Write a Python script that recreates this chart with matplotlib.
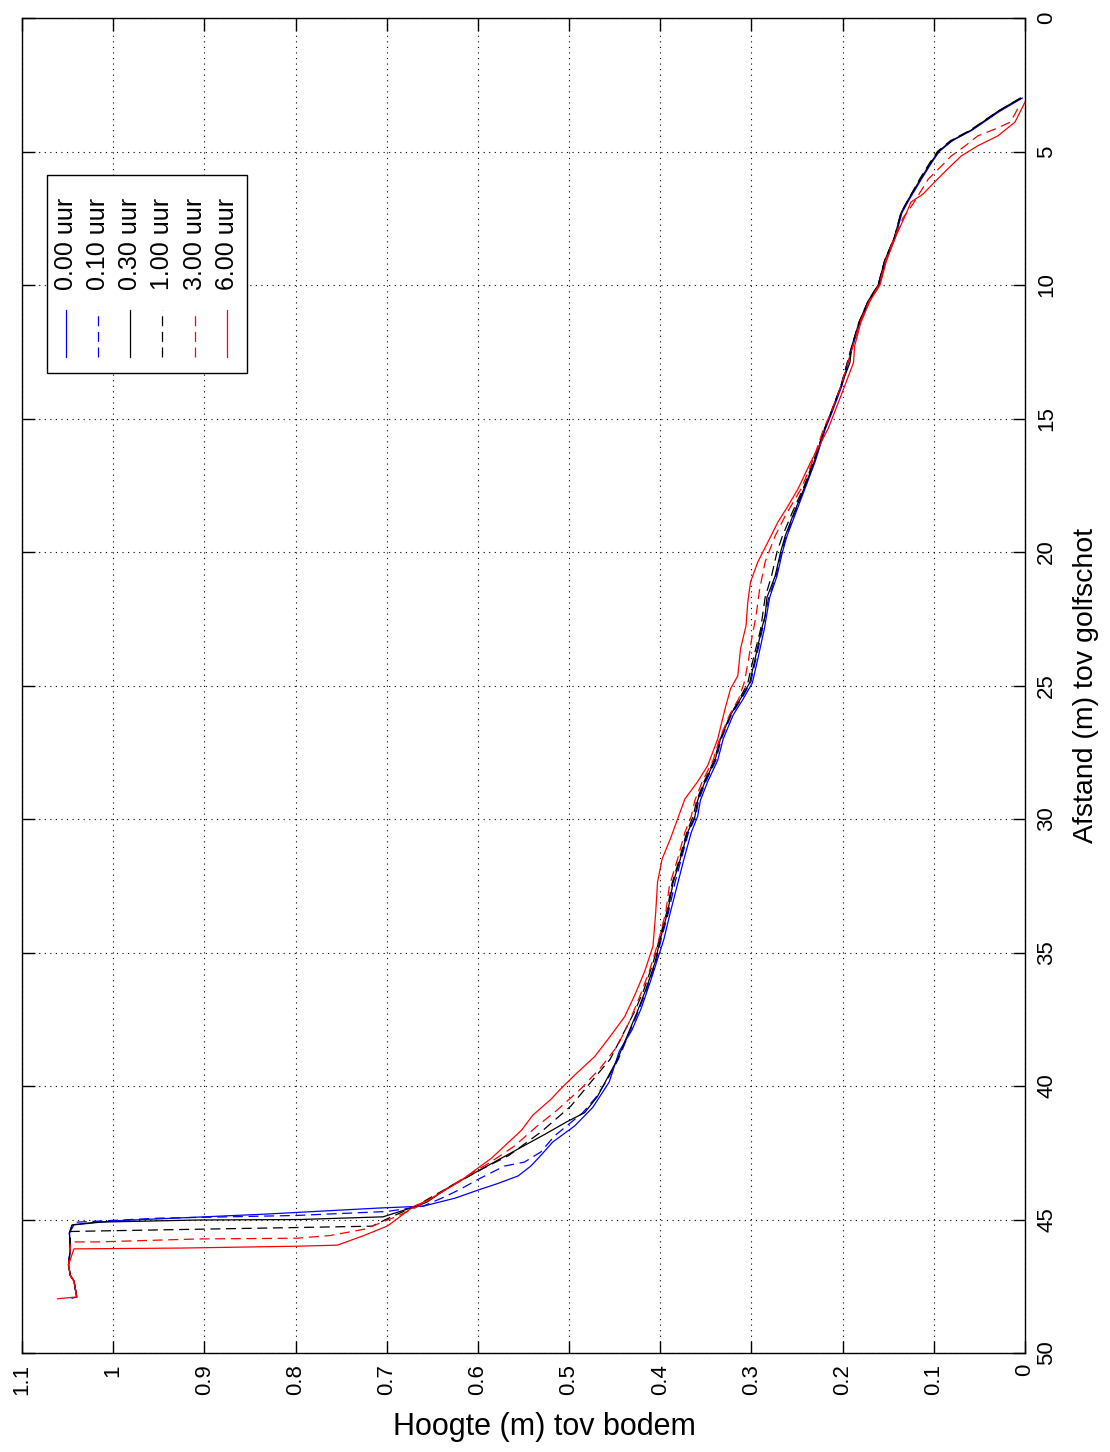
import matplotlib
matplotlib.use('Agg')
import matplotlib.pyplot as plt
from matplotlib.lines import Line2D
from matplotlib.patches import Rectangle

plt.rcParams['font.family'] = ['Liberation Sans', 'DejaVu Sans']

# meetmomenten en hun stijl
tijden = ['0.00 uur', '0.10 uur', '0.30 uur', '1.00 uur', '3.00 uur', '6.00 uur']
kleuren = ['#0000ff', '#0000ff', 'black', 'black', '#ff0000', '#ff0000']
stijlen = ['-', '--', '-', '--', '--', '-']

# profielen: (afstand tov golfschot [m], hoogte tov bodem [m])
profiel_000 = [(3.0, 0.003), (3.5, 0.028), (4.2, 0.058), (4.6, 0.080), (5.0, 0.094),
               (5.4, 0.102), (6.0, 0.113), (6.8, 0.127), (7.3, 0.135), (8.2, 0.142),
               (9.1, 0.153), (10.0, 0.160), (10.6, 0.171), (11.4, 0.181), (12.3, 0.189),
               (13.8, 0.201), (14.8, 0.212), (15.4, 0.219), (16.6, 0.230), (17.6, 0.241),
               (18.5, 0.251), (19.4, 0.261), (20.0, 0.266), (20.9, 0.272), (21.7, 0.280),
               (22.9, 0.286), (24.0, 0.293), (24.9, 0.299), (25.5, 0.309), (26.1, 0.320),
               (27.0, 0.331), (27.8, 0.337), (28.6, 0.348), (29.3, 0.356), (29.9, 0.359),
               (30.5, 0.366), (31.5, 0.374), (32.3, 0.380), (33.5, 0.389), (34.5, 0.396),
               (36.0, 0.410), (37.1, 0.421), (37.9, 0.431), (38.7, 0.445), (39.85, 0.456),
               (40.8, 0.474), (41.5, 0.494), (42.1, 0.518), (42.6, 0.531), (43.0, 0.542),
               (43.37, 0.556), (43.65, 0.578), (43.9, 0.600), (44.2, 0.625), (44.5, 0.660),
               (44.57, 0.708), (44.8, 0.834), (45.05, 0.999), (45.2, 1.043), (45.5, 1.048),
               (46.1, 1.047), (46.7, 1.049), (47.1, 1.047), (47.3, 1.043), (47.9, 1.040),
               (47.95, 1.045)]

profiel_010 = [(3.0, 0.004), (3.5, 0.029), (4.2, 0.059), (4.6, 0.080), (5.0, 0.095),
               (5.4, 0.103), (6.0, 0.114), (6.8, 0.128), (7.3, 0.136), (8.2, 0.143),
               (9.1, 0.154), (10.0, 0.161), (10.6, 0.172), (11.4, 0.182), (12.3, 0.190),
               (13.8, 0.202), (14.8, 0.213), (15.4, 0.220), (16.6, 0.231), (17.6, 0.242),
               (18.5, 0.252), (19.4, 0.262), (20.0, 0.267), (20.9, 0.273), (21.7, 0.281),
               (22.9, 0.288), (24.0, 0.295), (24.9, 0.301), (25.5, 0.311), (26.1, 0.322),
               (27.0, 0.333), (27.8, 0.339), (28.6, 0.350), (29.3, 0.358), (29.9, 0.361),
               (30.5, 0.369), (31.5, 0.377), (32.4, 0.384), (33.5, 0.391), (34.5, 0.399),
               (35.4, 0.405), (36.4, 0.415), (37.2, 0.424), (38.1, 0.435), (39.0, 0.446),
               (39.7, 0.457), (40.4, 0.470), (41.0, 0.485), (41.87, 0.516), (42.47, 0.531),
               (42.85, 0.549), (43.0, 0.571), (43.5, 0.600), (43.86, 0.619), (44.16, 0.637),
               (44.5, 0.660), (44.7, 0.700), (44.85, 0.800), (44.95, 0.950), (45.1, 1.040),
               (45.2, 1.045), (45.5, 1.048), (46.1, 1.047), (46.7, 1.049), (47.1, 1.047),
               (47.3, 1.043), (47.9, 1.040)]

profiel_030 = [(3.0, 0.005), (3.5, 0.030), (4.2, 0.059), (4.6, 0.081), (5.0, 0.095),
               (5.4, 0.103), (6.0, 0.114), (6.8, 0.128), (7.3, 0.136), (8.2, 0.143),
               (9.1, 0.154), (10.0, 0.161), (10.6, 0.172), (11.4, 0.182), (12.3, 0.190),
               (12.9, 0.192), (13.8, 0.202), (14.8, 0.213), (15.4, 0.220), (16.6, 0.231),
               (17.6, 0.242), (18.5, 0.253), (19.4, 0.263), (20.0, 0.268), (20.9, 0.274),
               (21.7, 0.283), (22.4, 0.285), (22.9, 0.289), (24.0, 0.296), (24.9, 0.302),
               (25.5, 0.312), (26.1, 0.323), (27.0, 0.334), (27.8, 0.340), (28.6, 0.351),
               (29.3, 0.359), (29.9, 0.362), (30.5, 0.370), (31.5, 0.378), (32.4, 0.386),
               (33.5, 0.392), (34.5, 0.400), (35.4, 0.406), (36.4, 0.416), (37.2, 0.425),
               (38.1, 0.436), (39.0, 0.447), (39.7, 0.458), (40.4, 0.469), (41.0, 0.483),
               (41.35, 0.503), (41.76, 0.524), (42.36, 0.556), (43.0, 0.590), (43.75, 0.630),
               (44.35, 0.656), (44.5, 0.667), (44.9, 0.704), (45.0, 0.795), (45.02, 0.908),
               (45.1, 1.018), (45.2, 1.045), (45.5, 1.048), (46.1, 1.047), (46.7, 1.049),
               (47.1, 1.047), (47.3, 1.043), (47.9, 1.040)]

profiel_100 = [(3.0, 0.005), (3.5, 0.030), (4.2, 0.060), (4.6, 0.082), (5.0, 0.096),
               (5.4, 0.104), (6.0, 0.115), (6.8, 0.128), (7.3, 0.136), (8.2, 0.143),
               (9.1, 0.154), (10.0, 0.161), (10.6, 0.172), (11.4, 0.182), (12.3, 0.190),
               (13.8, 0.202), (14.8, 0.213), (15.4, 0.220), (16.6, 0.232), (17.6, 0.243),
               (18.5, 0.255), (19.4, 0.266), (20.0, 0.272), (20.9, 0.278), (21.7, 0.285),
               (22.9, 0.290), (24.0, 0.298), (24.9, 0.304), (25.5, 0.313), (26.1, 0.323),
               (27.0, 0.334), (27.8, 0.341), (28.6, 0.352), (29.3, 0.360), (29.9, 0.364),
               (30.5, 0.371), (31.5, 0.379), (32.4, 0.387), (33.5, 0.393), (34.5, 0.401),
               (35.4, 0.408), (36.4, 0.418), (37.2, 0.428), (38.0, 0.440), (39.0, 0.455),
               (39.85, 0.476), (40.75, 0.498), (41.7, 0.530), (42.6, 0.566), (43.1, 0.595),
               (43.7, 0.627), (44.1, 0.648), (44.5, 0.668), (44.9, 0.695), (45.25, 0.716),
               (45.3, 0.798), (45.43, 1.018), (45.45, 1.047), (46.1, 1.047), (46.7, 1.049),
               (47.1, 1.047), (47.3, 1.043), (47.9, 1.040)]

profiel_300 = [(3.4, 0.008), (3.9, 0.016), (4.16, 0.033), (4.42, 0.052), (4.8, 0.066),
               (5.17, 0.081), (5.66, 0.095), (6.03, 0.106), (6.97, 0.123), (7.5, 0.134),
               (8.2, 0.143), (9.1, 0.153), (10.0, 0.160), (10.6, 0.171), (11.4, 0.181),
               (12.3, 0.189), (13.8, 0.202), (14.8, 0.213), (15.4, 0.221), (16.6, 0.233),
               (17.6, 0.245), (18.65, 0.263), (19.4, 0.274), (20.37, 0.285), (21.39, 0.291),
               (22.4, 0.295), (23.3, 0.300), (24.0, 0.303), (24.9, 0.308), (25.5, 0.314),
               (26.1, 0.324), (27.0, 0.335), (27.8, 0.342), (28.6, 0.354), (29.3, 0.362),
               (29.9, 0.366), (30.5, 0.373), (31.5, 0.381), (32.5, 0.390), (33.5, 0.394),
               (34.7, 0.403), (35.7, 0.412), (36.6, 0.422), (37.6, 0.434), (38.5, 0.447),
               (39.3, 0.465), (40.1, 0.487), (40.9, 0.513), (41.5, 0.535), (42.25, 0.560),
               (42.85, 0.586), (43.5, 0.618), (44.2, 0.650), (44.5, 0.665), (44.87, 0.688),
               (45.36, 0.724), (45.6, 0.762), (45.7, 0.798), (45.73, 0.908), (45.84, 1.018),
               (45.84, 1.047), (46.1, 1.047), (46.7, 1.049), (47.1, 1.047), (47.3, 1.043),
               (47.9, 1.040)]

profiel_600 = [(3.15, 0.000), (3.9, 0.011), (4.42, 0.030), (4.79, 0.052), (5.17, 0.070),
               (5.66, 0.085), (6.14, 0.099), (6.6, 0.112), (6.89, 0.125),
               (7.3, 0.130), (8.2, 0.142), (9.1, 0.152), (10.0, 0.159), (10.6, 0.170),
               (11.4, 0.180), (12.3, 0.187), (12.9, 0.188), (14.16, 0.202), (15.39, 0.216),
               (16.63, 0.235), (17.64, 0.249), (18.28, 0.260), (18.88, 0.271), (19.63, 0.282),
               (20.37, 0.293), (21.12, 0.301), (21.87, 0.304), (22.77, 0.306), (23.63, 0.312),
               (24.64, 0.315), (25.13, 0.323), (25.88, 0.329), (27.0, 0.337), (28.0, 0.348),
               (28.6, 0.359), (29.25, 0.373), (30.0, 0.381), (30.75, 0.389), (31.5, 0.398),
               (32.36, 0.403), (33.5, 0.405), (34.76, 0.408), (35.7, 0.417), (36.6, 0.428),
               (37.4, 0.439), (38.1, 0.454), (38.9, 0.472), (39.5, 0.491), (40.1, 0.509),
               (40.5, 0.520), (41.1, 0.540), (41.65, 0.552), (42.7, 0.585), (43.6, 0.621),
               (44.3, 0.656), (44.5, 0.670), (45.24, 0.699), (45.6, 0.725), (45.96, 0.754),
               (46.0, 0.798), (46.07, 0.926), (46.1, 1.043), (46.7, 1.049), (47.1, 1.047),
               (47.3, 1.043), (47.9, 1.040), (47.97, 1.061)]

profielen = [profiel_000, profiel_010, profiel_030, profiel_100, profiel_300, profiel_600]

afstand_ticks = [0, 5, 10, 15, 20, 25, 30, 35, 40, 45, 50]
hoogte_ticks = [1.1, 1.0, 0.9, 0.8, 0.7, 0.6, 0.5, 0.4, 0.3, 0.2, 0.1, 0.0]
hoogte_labels = ['1.1', '1', '0.9', '0.8', '0.7', '0.6', '0.5', '0.4', '0.3', '0.2', '0.1', '0']

W, H = 1110, 1452
fig = plt.figure(figsize=(W / 100, H / 100), dpi=100)
ax = fig.add_axes([22 / W, 1 - 1353 / H, (1025 - 22) / W, (1353 - 18) / H])

streep = (8, 4.5)
lijnen = []
for prof, kleur, stijl in zip(profielen, kleuren, stijlen):
    afstand = [p[0] for p in prof]
    hoogte = [p[1] for p in prof]
    l, = ax.plot(hoogte, afstand, color=kleur, linestyle=stijl, linewidth=0.9)
    if stijl == '--':
        l.set_dashes(streep)
    lijnen.append(l)

# gedraaide weergave: afstand verticaal, hoogte horizontaal
ax.set_xlim(1.1, 0)
ax.set_ylim(50, 0)
ax.set_xticks(hoogte_ticks)
ax.set_xticklabels(hoogte_labels, rotation=90)
ax.set_yticks(afstand_ticks)
ax.set_yticklabels([str(t) for t in afstand_ticks], rotation=90, va='center')
ax.tick_params(axis='x', direction='in', length=9, width=1, top=True, bottom=True,
               labelsize=16, pad=8)
ax.tick_params(axis='y', direction='in', length=9, width=1, left=True, right=True,
               labelleft=False, labelright=True, labelsize=16, pad=8)
ax.grid(True, color='black', linestyle=(0, (1, 4)), linewidth=0.8)
for sp in ax.spines.values():
    sp.set_linewidth(1)

ax.set_xlabel('Hoogte (m) tov bodem', fontsize=22)
ax.xaxis.set_label_coords((544 - 22) / (1025 - 22), -(1427 - 1353) / (1353 - 18))
ax.xaxis.label.set_va('center')
ax.yaxis.set_label_position('right')
ax.set_ylabel('Afstand (m) tov golfschot', fontsize=20.5, rotation=90)
ax.yaxis.set_label_coords((1086 - 22) / (1025 - 22), 0.5)
ax.yaxis.label.set_va('center')

# legenda, ook gedraaid
fx = lambda x: x / W
fy = lambda y: 1 - y / H
fig.add_artist(Rectangle((fx(47), fy(373)), fx(247) - fx(47), fy(175) - fy(373),
                         transform=fig.transFigure, facecolor='white',
                         edgecolor='black', linewidth=1, zorder=5))
kolommen = [66, 98, 130, 162, 195, 227]
for xk, lijn, naam in zip(kolommen, lijnen, tijden):
    lg = Line2D([fx(xk), fx(xk)], [fy(357), fy(310)], transform=fig.transFigure,
                color=lijn.get_color(), linewidth=0.9, zorder=6)
    if lijn.get_linestyle() == '--':
        lg.set_linestyle('--')
        lg.set_dashes(streep)
    fig.add_artist(lg)
    fig.text(fx(xk), fy(290), naam, rotation=90, ha='center', va='bottom',
             fontsize=18, zorder=7)

fig.savefig('out.png', dpi=100)
